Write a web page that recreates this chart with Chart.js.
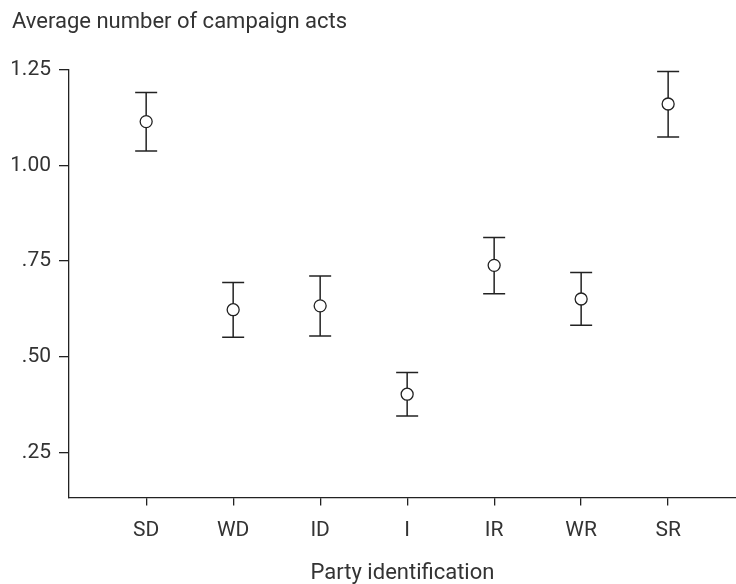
<!DOCTYPE html>
<html>
<head>
<meta charset="utf-8">
<script src="https://cdn.jsdelivr.net/npm/chart.js@4.4.1/dist/chart.umd.min.js"></script>
<style>
  html, body { margin: 0; padding: 0; background: #fff; }
  #wrap { width: 736px; height: 584px; }
</style>
</head>
<body>
<div id="wrap"><canvas id="chart" width="736" height="584"></canvas></div>
<script>
const categories = ['SD', 'WD', 'ID', 'I', 'IR', 'WR', 'SR'];
const means = [1.115, 0.623, 0.633, 0.402, 0.739, 0.651, 1.161];
const lower = [1.038, 0.551, 0.554, 0.345, 0.665, 0.582, 1.075];
const upper = [1.191, 0.694, 0.711, 0.459, 0.812, 0.720, 1.246];
const yTicks = [0.25, 0.50, 0.75, 1.00, 1.25];
const yTickLabels = ['.25', '.50', '.75', '1.00', '1.25'];

const ink = '#222';
const textColor = '#333';
const fontFamily = 'Roboto, "Liberation Sans", sans-serif';

// one little line dataset per category for the error bar (caps are 'line' points)
const whiskers = categories.map((c, i) => ({
    type: 'line',
    data: [{ x: i + 1, y: lower[i] }, { x: i + 1, y: upper[i] }],
    borderColor: ink,
    borderWidth: 1.5,
    pointStyle: 'line',
    pointRadius: 11,
    pointBorderColor: ink,
    pointBorderWidth: 1.5,
    pointHoverRadius: 11,
    order: 2
}));

const ctx = document.getElementById('chart').getContext('2d');
const chart = new Chart(ctx, {
    type: 'scatter',
    data: {
        datasets: [{
            label: 'Mean',
            data: means.map((m, i) => ({ x: i + 1, y: m })),
            pointStyle: 'circle',
            pointRadius: 6,
            pointHoverRadius: 6,
            pointBackgroundColor: '#fff',
            pointBorderColor: ink,
            pointBorderWidth: 1.3,
            order: 1
        }].concat(whiskers)
    },
    options: {
        responsive: false,
        animation: false,
        layout: { autoPadding: false, padding: { left: 12, right: 0, top: 0, bottom: -3 } },
        plugins: {
            legend: { display: false },
            tooltip: { enabled: false },
            title: {
                display: true,
                text: 'Average number of campaign acts',
                align: 'start',
                color: textColor,
                font: { family: fontFamily, size: 22, weight: 'normal' },
                padding: { top: 9, bottom: 34.6 }
            }
        },
        scales: {
            x: {
                type: 'linear',
                min: 0.113,
                max: 7.78,
                afterBuildTicks: function(axis) {
                    axis.ticks = categories.map((c, i) => ({ value: i + 1 }));
                },
                ticks: {
                    color: textColor,
                    font: { family: fontFamily, size: 21 },
                    padding: 13,
                    maxRotation: 0,
                    autoSkip: false,
                    callback: function(value) { return categories[value - 1] || ''; }
                },
                grid: { drawOnChartArea: false, drawTicks: true, tickLength: 8, color: ink, lineWidth: 1.3 },
                border: { display: true, color: ink, width: 1.3 },
                title: {
                    display: true,
                    text: 'Party identification',
                    color: textColor,
                    font: { family: fontFamily, size: 22 },
                    padding: { top: 4, bottom: 0 }
                }
            },
            y: {
                type: 'linear',
                min: 0.132,
                max: 1.25,
                afterBuildTicks: function(axis) {
                    axis.ticks = yTicks.map(v => ({ value: v }));
                },
                afterFit: function(axis) { axis.width = 57; },
                ticks: {
                    color: textColor,
                    font: { family: fontFamily, size: 21 },
                    padding: 8,
                    callback: function(value) {
                        const k = yTicks.indexOf(value);
                        return k >= 0 ? yTickLabels[k] : '';
                    }
                },
                grid: { drawOnChartArea: false, drawTicks: true, tickLength: 10, color: ink, lineWidth: 1.3 },
                border: { display: true, color: ink, width: 1.3 }
            }
        }
    }
});
</script>
</body>
</html>
